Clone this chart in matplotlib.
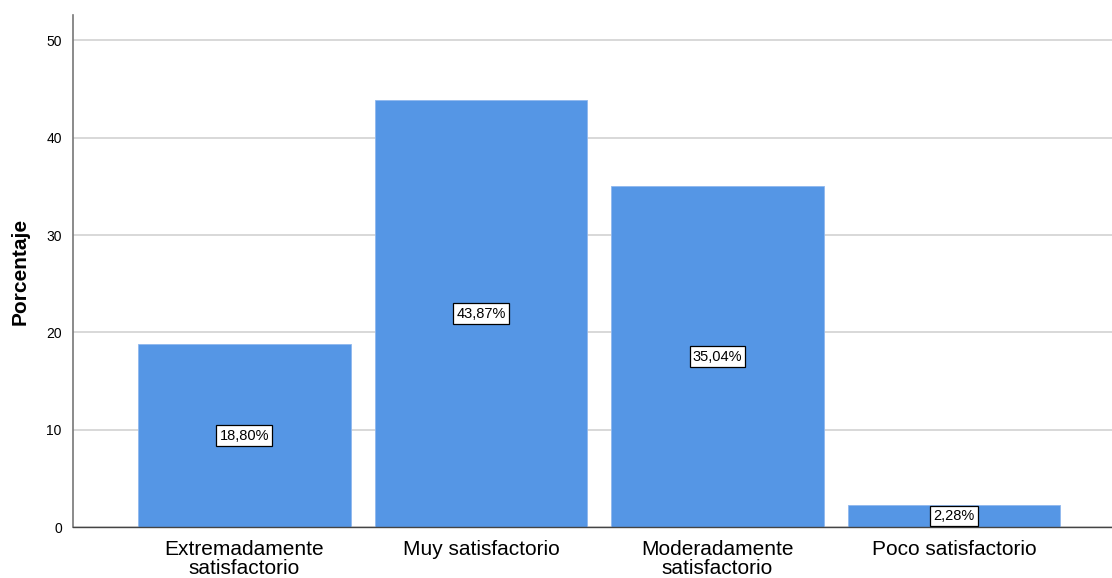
import matplotlib.pyplot as plt

plt.rcParams['font.family'] = ['Liberation Sans', 'DejaVu Sans']

categorias = ['Extremadamente\nsatisfactorio', 'Muy satisfactorio',
              'Moderadamente\nsatisfactorio', 'Poco satisfactorio']
porcentajes = [18.80, 43.87, 35.04, 2.28]
etiquetas = ['18,80%', '43,87%', '35,04%', '2,28%']
yticks = [0, 10, 20, 30, 40, 50]

fig = plt.figure(figsize=(11.12, 5.78), dpi=100)
ax = fig.add_axes([0.0656, 0.088, 0.9344, 0.886])

x = range(len(categorias))
ax.bar(x, porcentajes, width=0.9, color='#5596e5', edgecolor='#8fb8ee',
       linewidth=0.6, zorder=2)

for xi, v, t in zip(x, porcentajes, etiquetas):
    ax.text(xi, v / 2, t, ha='center', va='center', fontsize=10.5, zorder=3,
            bbox=dict(boxstyle='square,pad=0.22', fc='white', ec='black', lw=0.9))

ax.set_xlim(-0.725, 3.668)
ax.set_ylim(0, 52.6)
ax.set_yticks(yticks)
ax.set_yticklabels([str(v) for v in yticks], fontsize=10)
ax.set_xticks(list(x))
ax.set_xticklabels(categorias, fontsize=15, linespacing=1.0)
ax.tick_params(axis='x', length=0, pad=9)
ax.tick_params(axis='y', length=0, pad=8)
ax.grid(axis='y', color='#d2d2d2', linewidth=1.2, zorder=0)
ax.set_axisbelow(True)

for s in ['top', 'right']:
    ax.spines[s].set_visible(False)
ax.spines['left'].set_color('#777777')
ax.spines['bottom'].set_color('#444444')
ax.spines['left'].set_linewidth(1.2)
ax.spines['bottom'].set_linewidth(1.0)

ax.set_ylabel('Porcentaje', fontsize=15, fontweight='bold', labelpad=12)

fig.savefig('out.png', dpi=100)
